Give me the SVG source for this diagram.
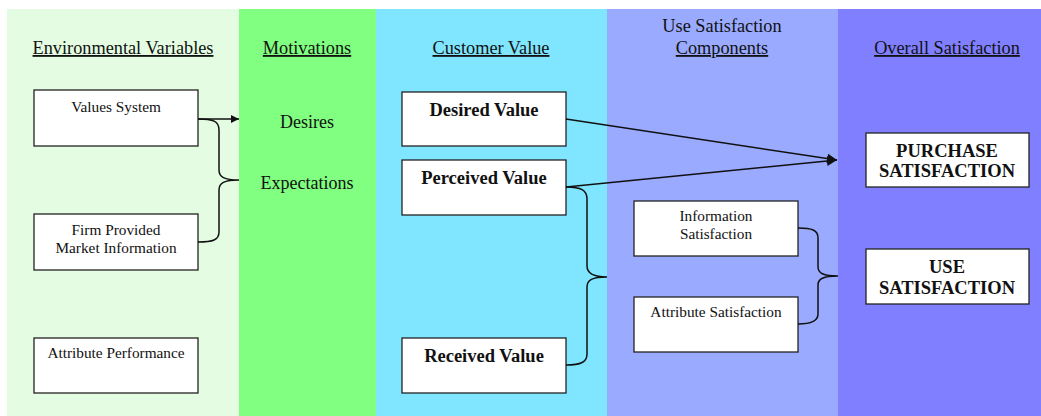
<svg xmlns="http://www.w3.org/2000/svg" width="1041" height="416" viewBox="0 0 1041 416">
  <defs>
    <style>
      .hdr { font-family: "Liberation Serif", "Times New Roman", serif; font-size: 18.3px; fill: #111; text-anchor: middle; }
      .u { text-decoration: underline; }
      .lbl { font-family: "Liberation Serif", "Times New Roman", serif; font-size: 15.3px; fill: #111; text-anchor: middle; }
      .big { font-family: "Liberation Serif", "Times New Roman", serif; font-size: 18.5px; font-weight: bold; fill: #111; text-anchor: middle; }
      .mot { font-family: "Liberation Serif", "Times New Roman", serif; font-size: 18px; fill: #111; text-anchor: middle; }
      .box { fill: #fff; stroke: #222; stroke-width: 1.3; }
      .con { fill: none; stroke: #111; stroke-width: 1.5; }
    </style>
    <marker id="arrow" viewBox="0 0 10 10" refX="10" refY="5" markerWidth="8" markerHeight="8" markerUnits="userSpaceOnUse" orient="auto">
      <path d="M0,0 L10,5 L0,10 z" fill="#111"/>
    </marker>
    <marker id="arrowBig" viewBox="0 0 10 10" refX="10" refY="5" markerWidth="10" markerHeight="10" markerUnits="userSpaceOnUse" orient="auto">
      <path d="M0,0 L10,5 L0,10 z" fill="#111"/>
    </marker>
  </defs>

  <rect x="0" y="0" width="1041" height="416" fill="#fff"/>

  <!-- column bands -->
  <g id="bands">
    <rect x="7" y="9" width="232" height="407" fill="#E4FDE2"/>
    <rect x="239" y="9" width="137" height="407" fill="#80FF80"/>
    <rect x="376" y="9" width="231" height="407" fill="#80E6FF"/>
    <rect x="607" y="9" width="231" height="407" fill="#99AAFF"/>
    <rect x="838" y="9" width="203" height="407" fill="#7F7FFF"/>
  </g>

  <!-- column headings -->
  <g id="headings">
    <text class="hdr u" x="123" y="54">Environmental Variables</text>
    <text class="hdr u" x="307" y="54">Motivations</text>
    <text class="hdr u" x="491" y="54">Customer Value</text>
    <text class="hdr" x="722" y="32">Use Satisfaction</text>
    <text class="hdr u" x="722" y="54">Components</text>
    <text class="hdr u" x="947" y="54">Overall Satisfaction</text>
  </g>

  <!-- motivations -->
  <g id="motivations">
    <text class="mot" x="307" y="128">Desires</text>
    <text class="mot" x="307" y="189">Expectations</text>
  </g>

  <g id="values-system">
    <rect class="box" x="34" y="90" width="164" height="56"/>
    <text class="lbl" x="116" y="112">Values System</text>
  </g>
  <g id="firm-info">
    <rect class="box" x="34" y="214" width="164" height="56"/>
    <text class="lbl" x="116" y="235">Firm Provided</text>
    <text class="lbl" x="116" y="253">Market Information</text>
  </g>
  <g id="attribute-performance">
    <rect class="box" x="34" y="338" width="164" height="55"/>
    <text class="lbl" x="116" y="358">Attribute Performance</text>
  </g>

  <g id="desired-value">
    <rect class="box" x="402" y="92" width="164" height="54"/>
    <text class="big" x="484" y="116">Desired Value</text>
  </g>
  <g id="perceived-value">
    <rect class="box" x="402" y="160" width="164" height="55"/>
    <text class="big" x="484" y="184">Perceived Value</text>
  </g>
  <g id="received-value">
    <rect class="box" x="402" y="338" width="164" height="55"/>
    <text class="big" x="484" y="362">Received Value</text>
  </g>

  <g id="information-satisfaction">
    <rect class="box" x="634" y="201" width="164" height="55"/>
    <text class="lbl" x="716" y="221">Information</text>
    <text class="lbl" x="716" y="239">Satisfaction</text>
  </g>
  <g id="attribute-satisfaction">
    <rect class="box" x="634" y="297" width="164" height="55"/>
    <text class="lbl" x="716" y="317">Attribute Satisfaction</text>
  </g>

  <g id="purchase-satisfaction">
    <rect class="box" x="866" y="133" width="163" height="54"/>
    <text class="big" x="947" y="157">PURCHASE</text>
    <text class="big" x="947" y="177">SATISFACTION</text>
  </g>
  <g id="use-satisfaction">
    <rect class="box" x="866" y="249" width="163" height="55"/>
    <text class="big" x="947" y="273">USE</text>
    <text class="big" x="947" y="294">SATISFACTION</text>
  </g>

  <!-- connectors -->
  <g id="connectors">
    <line class="con" x1="198" y1="119" x2="239" y2="119" marker-end="url(#arrow)"/>
    <path class="con" d="M198,119 C213,119 219,121 219,130 L219,170 C219,177 224,180 239,180 C224,180 219,183 219,190 L219,232 C219,240 213,242 198,242"/>
    <line class="con" x1="566" y1="119" x2="837" y2="160" marker-end="url(#arrowBig)"/>
    <line class="con" x1="566" y1="187" x2="837" y2="160" marker-end="url(#arrowBig)"/>
    <path class="con" d="M566,187 C581,187 587,190 587,199 L587,266 C587,273 592,277 607,277 C592,277 587,280 587,287 L587,354 C587,362 581,365 566,365"/>
    <path class="con" d="M798,228 C812,228 818,230 818,238 L818,267 C818,273 823,276 838,276 C823,276 818,279 818,285 L818,314 C818,321 812,324 798,324"/>
  </g>
</svg>
